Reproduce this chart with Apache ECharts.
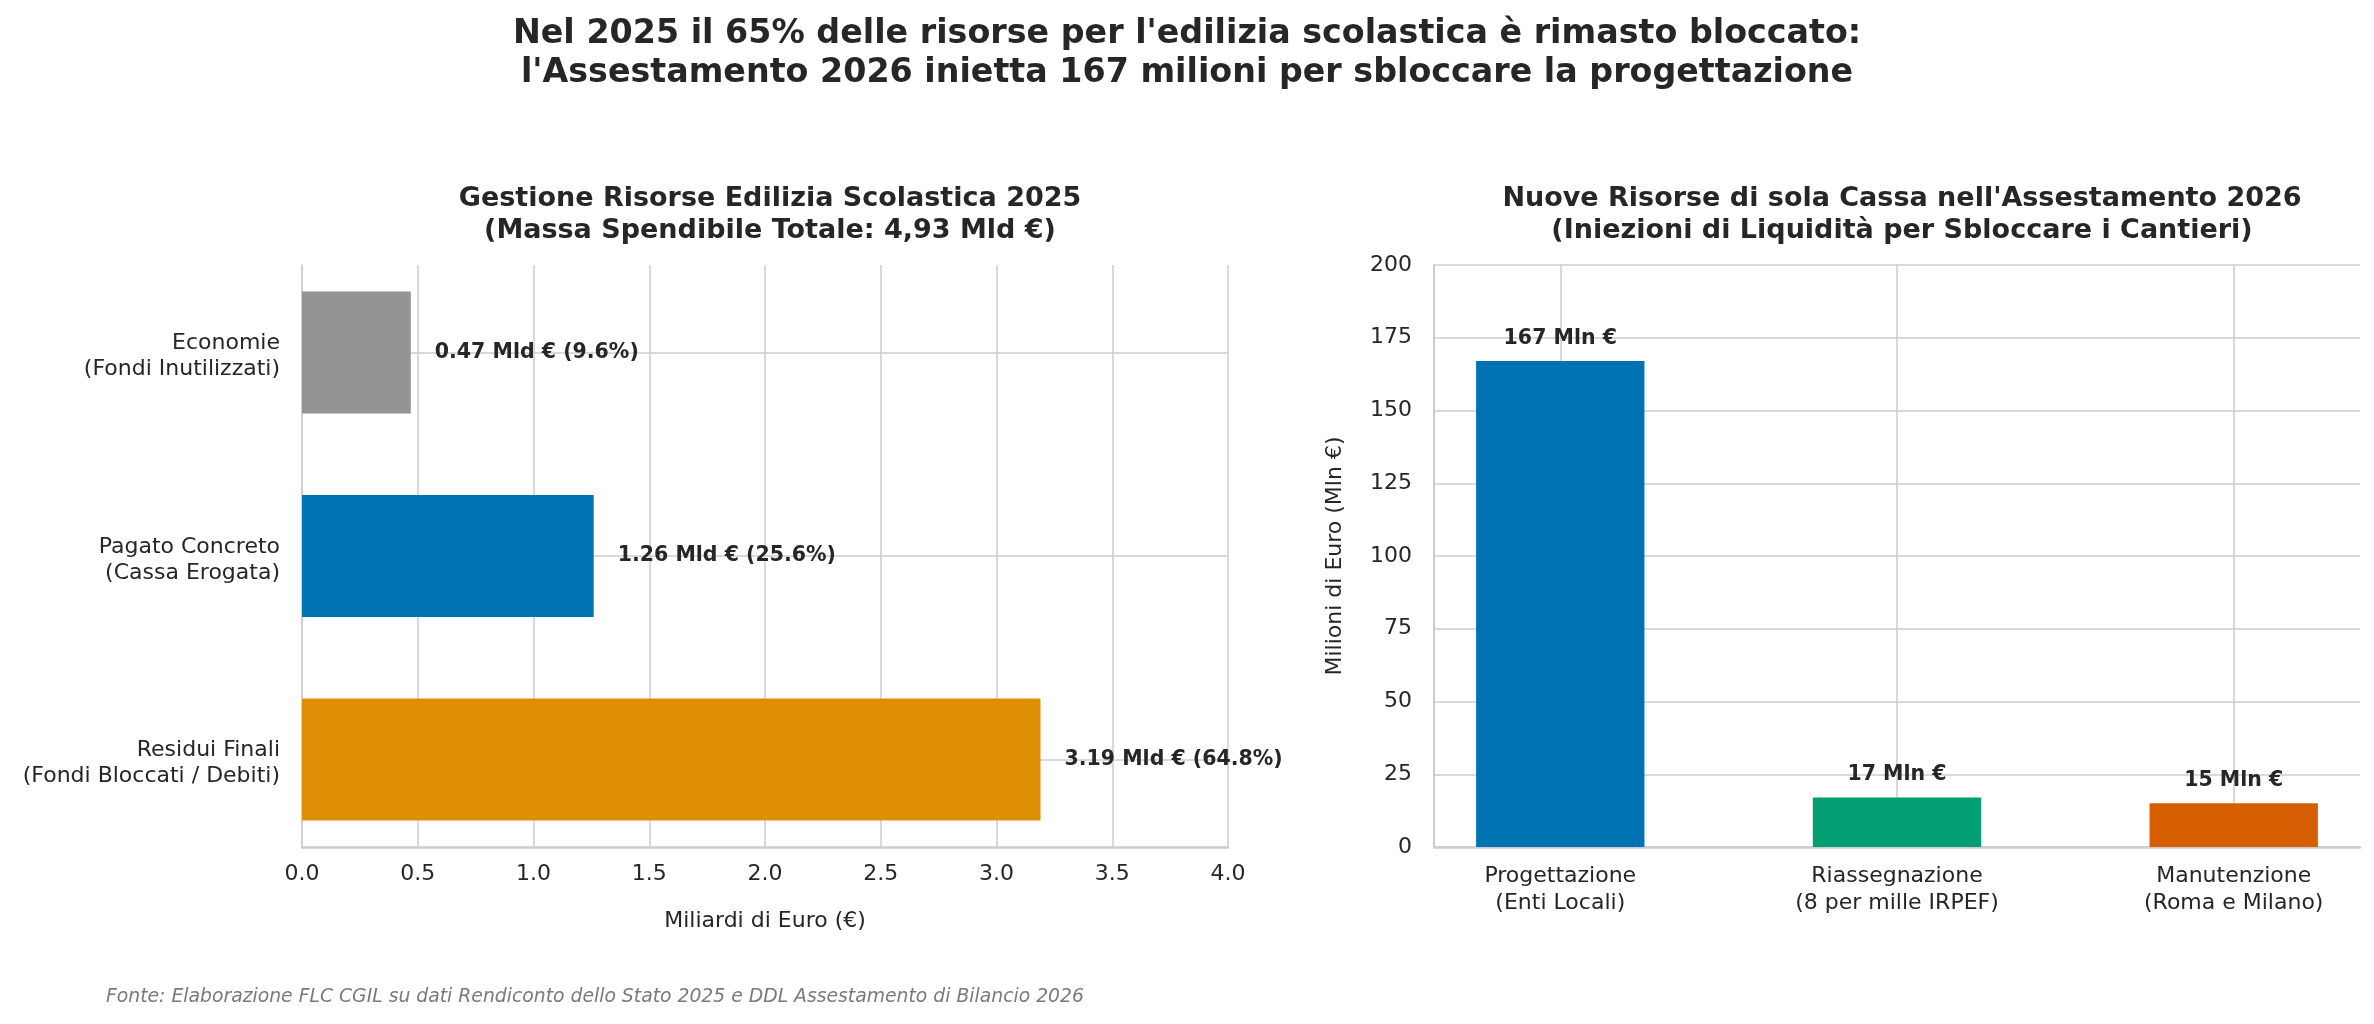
<!DOCTYPE html>
<html>
<head>
<meta charset="utf-8">
<script src="https://cdn.jsdelivr.net/npm/echarts@6/dist/echarts.min.js"></script>
<style>
html,body{margin:0;padding:0;background:#fff;}
#chart{width:2374px;height:1024px;}
</style>
</head>
<body>
<div id="chart"></div>
<script>
// ---- Data ----
const leftCategories = ['Economie\n(Fondi Inutilizzati)', 'Pagato Concreto\n(Cassa Erogata)', 'Residui Finali\n(Fondi Bloccati / Debiti)'];
const leftValues = [0.47, 1.26, 3.19];          // Mld €
const leftPercents = [9.6, 25.6, 64.8];         // %
const leftColors = ['#949494', '#0173B2', '#DE8F05'];
const leftTicks = [0, 0.5, 1.0, 1.5, 2.0, 2.5, 3.0, 3.5, 4.0];

const rightCategories = ['Progettazione\n(Enti Locali)', 'Riassegnazione\n(8 per mille IRPEF)', 'Manutenzione\n(Roma e Milano)'];
const rightValues = [167, 17, 15];              // Mln €
const rightColors = ['#0173B2', '#029E73', '#D55E00'];
const rightTicks = [0, 25, 50, 75, 100, 125, 150, 175, 200];

const mainTitle = "Nel 2025 il 65% delle risorse per l'edilizia scolastica è rimasto bloccato:\nl'Assestamento 2026 inietta 167 milioni per sbloccare la progettazione";
const leftTitle = "Gestione Risorse Edilizia Scolastica 2025\n(Massa Spendibile Totale: 4,93 Mld €)";
const rightTitle = "Nuove Risorse di sola Cassa nell'Assestamento 2026\n(Iniezioni di Liquidità per Sbloccare i Cantieri)";
const footer = "Fonte: Elaborazione FLC CGIL su dati Rendiconto dello Stato 2025 e DDL Assestamento di Bilancio 2026";

// ---- Layout ----
const FONT = 'DejaVu Sans';
const TXT = '#262626';
const GRID = '#cccccc';
const L = {left: 302, top: 265, width: 926, height: 582};
const R = {left: 1434, top: 265, width: 926, height: 582};
// matplotlib-like category spacing (margins 5%)
const lBand = L.height / (2.6 * 1.1);   // px per category
const lCenter0 = L.top + L.height * (0.43 / 2.86);
const rBand = R.width / 2.75;
const rCenter0 = R.left + R.width * (0.375 / 2.75);

const catLabelStyle = {fontSize: 22, color: TXT, lineHeight: 26, fontFamily: FONT, align: 'right'};

const chart = echarts.init(document.getElementById('chart'));
chart.setOption({
  backgroundColor: '#ffffff',
  animation: false,
  textStyle: {fontFamily: FONT, color: TXT},
  title: [
    {text: mainTitle, left: 'center', top: 10, textStyle: {fontSize: 33.3, fontWeight: 'bold', lineHeight: 39, color: TXT, fontFamily: FONT}},
    {text: leftTitle, left: L.left + L.width / 2, top: 178, textAlign: 'center', textStyle: {fontSize: 27, fontWeight: 'bold', lineHeight: 32, color: TXT, fontFamily: FONT}},
    {text: rightTitle, left: R.left + R.width / 2, top: 178, textAlign: 'center', textStyle: {fontSize: 27, fontWeight: 'bold', lineHeight: 32, color: TXT, fontFamily: FONT}}
  ],
  graphic: [
    {type: 'text', left: 106, top: 988, style: {text: footer, fontFamily: FONT, fontSize: 18.8, fontStyle: 'italic', fill: '#7a7a7a'}}
  ],
  grid: [
    {left: L.left, top: L.top, width: L.width, height: L.height, outerBoundsMode: 'none'},
    {left: L.left, top: lCenter0 - lBand / 2, width: L.width, height: lBand * 3, outerBoundsMode: 'none'},
    {left: R.left, top: R.top, width: R.width, height: R.height, outerBoundsMode: 'none'},
    {left: rCenter0 - rBand / 2, top: R.top, width: rBand * 3, height: R.height, outerBoundsMode: 'none'}
  ],
  xAxis: [
    {gridIndex: 0, type: 'value', min: leftTicks[0], max: leftTicks[leftTicks.length - 1], interval: 0.5,
     axisLine: {show: true, lineStyle: {color: GRID, width: 2.5}}, axisTick: {show: false},
     axisLabel: {fontSize: 22, color: TXT, margin: 16, fontFamily: FONT, formatter: v => v.toFixed(1)},
     splitLine: {show: true, lineStyle: {color: GRID, width: 1.5}},
     name: 'Miliardi di Euro (€)', nameLocation: 'middle', nameGap: 63,
     nameTextStyle: {fontSize: 22, color: TXT, fontFamily: FONT}},
    {gridIndex: 1, type: 'value', min: leftTicks[0], max: leftTicks[leftTicks.length - 1], show: false},
    {gridIndex: 2, type: 'category', data: rightCategories, axisLine: {show: true, lineStyle: {color: GRID, width: 2.5}},
     axisTick: {show: false}, axisLabel: {show: false}, splitLine: {show: false}},
    {gridIndex: 3, type: 'category', data: rightCategories, axisLine: {show: false}, axisTick: {show: false},
     axisLabel: {fontSize: 22, color: TXT, margin: 16, lineHeight: 27, fontFamily: FONT}, splitLine: {show: false}}
  ],
  yAxis: [
    {gridIndex: 0, type: 'value', min: 0, max: 1, axisLabel: {show: false}, axisTick: {show: false},
     splitLine: {show: false}, axisLine: {show: true, lineStyle: {color: GRID, width: 1.5}}},
    {gridIndex: 1, type: 'category', data: leftCategories, inverse: true, axisLine: {show: false}, axisTick: {show: false},
     axisLabel: {fontSize: 22, color: TXT, margin: 22, lineHeight: 26, align: 'right', fontFamily: FONT,
                 formatter: v => { const p = v.split('\n'); return '{a|' + p[0] + '}\n{b|' + p[1] + '}'; },
                 rich: {a: Object.assign({}, catLabelStyle, {padding: [8, 0, 0, 0]}), b: Object.assign({}, catLabelStyle, {padding: [8, 0, 0, 0]})}},
     splitLine: {show: false}},
    {gridIndex: 2, type: 'value', min: rightTicks[0], max: rightTicks[rightTicks.length - 1], interval: 25,
     axisLine: {show: true, lineStyle: {color: GRID, width: 2}}, axisTick: {show: false},
     axisLabel: {fontSize: 22, color: TXT, margin: 22, fontFamily: FONT},
     splitLine: {show: true, lineStyle: {color: GRID, width: 1.5}},
     name: 'Milioni di Euro (Mln €)', nameLocation: 'middle', nameGap: 88,
     nameTextStyle: {fontSize: 22, color: TXT, fontFamily: FONT}},
    {gridIndex: 3, type: 'value', min: rightTicks[0], max: rightTicks[rightTicks.length - 1], show: false}
  ],
  series: [
    {type: 'bar', xAxisIndex: 1, yAxisIndex: 1, barWidth: '60%', z: 3,
     data: leftValues.map((v, i) => ({value: v, itemStyle: {color: leftColors[i]}})),
     label: {show: true, position: 'right', distance: 24, fontSize: 20.5, fontWeight: 'bold', color: TXT, fontFamily: FONT,
             formatter: p => p.value.toFixed(2) + ' Mld € (' + leftPercents[p.dataIndex].toFixed(1) + '%)'},
     markLine: {silent: true, symbol: 'none', z: 1, label: {show: false},
                lineStyle: {color: GRID, width: 1.5, type: 'solid'},
                data: leftCategories.map(c => ({yAxis: c}))}},
    {type: 'bar', xAxisIndex: 3, yAxisIndex: 3, barWidth: '50%', z: 3,
     data: rightValues.map((v, i) => ({value: v, itemStyle: {color: rightColors[i]}})),
     label: {show: true, position: 'top', distance: 12, fontSize: 20.5, fontWeight: 'bold', color: TXT, fontFamily: FONT,
             formatter: p => p.value + ' Mln €'},
     markLine: {silent: true, symbol: 'none', z: 1, label: {show: false},
                lineStyle: {color: GRID, width: 1.5, type: 'solid'},
                data: rightCategories.map(c => ({xAxis: c}))}}
  ]
});
</script>
</body>
</html>
